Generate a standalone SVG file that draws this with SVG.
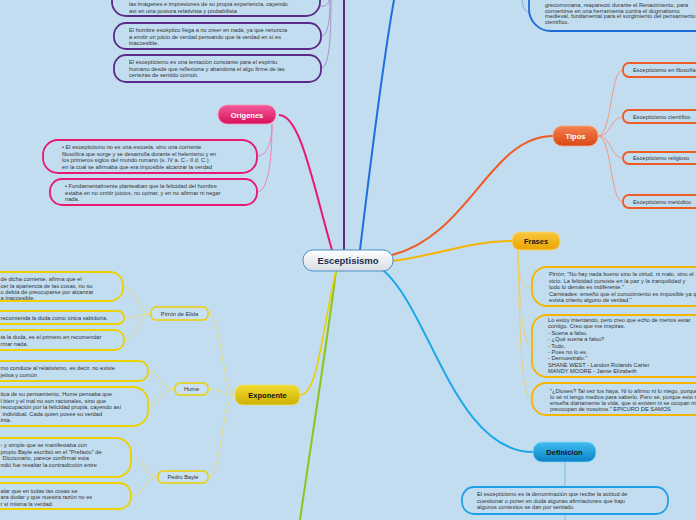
<svg xmlns="http://www.w3.org/2000/svg" width="696" height="520" viewBox="0 0 696 520">
<defs>
<linearGradient id="gC" x1="0" y1="0" x2="0" y2="1"><stop offset="0" stop-color="#ffffff"/><stop offset="1" stop-color="#d7dde3"/></linearGradient>
<linearGradient id="gPink" x1="0" y1="0" x2="0" y2="1"><stop offset="0" stop-color="#f25a98"/><stop offset="1" stop-color="#d9105e"/></linearGradient>
<linearGradient id="gYel" x1="0" y1="0" x2="0" y2="1"><stop offset="0" stop-color="#f2dc30"/><stop offset="1" stop-color="#cfb000"/></linearGradient>
<linearGradient id="gOr" x1="0" y1="0" x2="0" y2="1"><stop offset="0" stop-color="#f58050"/><stop offset="1" stop-color="#d84812"/></linearGradient>
<linearGradient id="gFr" x1="0" y1="0" x2="0" y2="1"><stop offset="0" stop-color="#fac840"/><stop offset="1" stop-color="#e8a400"/></linearGradient>
<linearGradient id="gBl" x1="0" y1="0" x2="0" y2="1"><stop offset="0" stop-color="#40bdf0"/><stop offset="1" stop-color="#0a82c8"/></linearGradient>
</defs>
<style>
text{font-family:"Liberation Sans",Arial,sans-serif;}
.t{font-size:5.7px;fill:#333333;}
.main{font-size:7.5px;font-weight:bold;text-anchor:middle;}
.sub{font-size:5.7px;fill:#333333;text-anchor:middle;}
.box{fill:none;stroke-width:1.8;}
.pu{stroke:#5b2a88;}
.pk{stroke:#e8196f;}
.yl{stroke:#ecd000;}
.or{stroke:#f05a24;}
.fr{stroke:#f5b400;}
.bl{stroke:#1e9ee6;}
.bd{stroke:#1a6ad8;}
.c{fill:none;}
</style>
<rect x="0" y="0" width="696" height="520" fill="#c2ddf0"/>

<g id="connectors">
<path class="c" d="M344,250 L344,0" stroke="#5b2a88" stroke-width="2"/>
<path class="c" d="M330,0 C330,20 328,36 321,36" stroke="#a48cc4" stroke-width="0.9"/>
<path class="c" d="M331,0 C331,40 329,68 321,68" stroke="#a48cc4" stroke-width="0.9"/>
<path class="c" d="M329,0 C329,4 325,7 320,6" stroke="#a48cc4" stroke-width="0.9"/>
<path class="c" d="M360,250 C372,150 385,50 394,0" stroke="#1e6fdc" stroke-width="2"/>
<path class="c" d="M522,0 C523,8 525,12 529,12" stroke="#6ea2e8" stroke-width="0.9"/>
<path class="c" d="M332,250 C312,180 300,115 279,115" stroke="#e8196f" stroke-width="2"/>
<path class="c" d="M272,124 C272,140 268,156 257,156" stroke="#f07aa8" stroke-width="0.9"/>
<path class="c" d="M272,124 C272,160 268,192 257,192" stroke="#f07aa8" stroke-width="0.9"/>
<path class="c" d="M392,255 C470,235 490,136 553,136" stroke="#f05a24" stroke-width="2"/>
<path class="c" d="M598,136 C612,136 610,70 623,70" stroke="#f4927a" stroke-width="0.9"/>
<path class="c" d="M598,136 C612,136 610,117 623,117" stroke="#f4927a" stroke-width="0.9"/>
<path class="c" d="M598,136 C612,136 610,158 623,158" stroke="#f4927a" stroke-width="0.9"/>
<path class="c" d="M598,136 C612,136 610,202 623,202" stroke="#f4927a" stroke-width="0.9"/>
<path class="c" d="M392,261 C440,255 470,241 512,241" stroke="#f5b400" stroke-width="2"/>
<path class="c" d="M518,250 C518,280 522,287 532,287" stroke="#f2cc60" stroke-width="0.9"/>
<path class="c" d="M518,250 C520,320 524,346 532,346" stroke="#f2cc60" stroke-width="0.9"/>
<path class="c" d="M518,250 C520,370 524,399 532,399" stroke="#f2cc60" stroke-width="0.9"/>
<path class="c" d="M336,271 C326,350 310,450 300,520" stroke="#8cc41e" stroke-width="2"/>
<path class="c" d="M300,395 C318,395 322,330 336,271" stroke="#ecd000" stroke-width="1.6"/>
<path class="c" d="M235,395 C222,395 222,314 208,314" stroke="#eadc78" stroke-width="0.9"/>
<path class="c" d="M235,395 C222,395 222,389 208,389" stroke="#eadc78" stroke-width="0.9"/>
<path class="c" d="M235,395 C222,395 222,477 208,477" stroke="#eadc78" stroke-width="0.9"/>
<path class="c" d="M151,314 C138,314 137,287 123,287" stroke="#eadc78" stroke-width="0.9"/>
<path class="c" d="M151,314 C138,314 137,318 124,318" stroke="#eadc78" stroke-width="0.9"/>
<path class="c" d="M151,314 C138,314 137,340 124,340" stroke="#eadc78" stroke-width="0.9"/>
<path class="c" d="M175,389 C160,389 160,371 148,371" stroke="#eadc78" stroke-width="0.9"/>
<path class="c" d="M175,389 C160,389 160,406 148,406" stroke="#eadc78" stroke-width="0.9"/>
<path class="c" d="M158,477 C145,477 144,457 131,457" stroke="#eadc78" stroke-width="0.9"/>
<path class="c" d="M158,477 C145,477 144,496 131,496" stroke="#eadc78" stroke-width="0.9"/>
<path class="c" d="M383,270 C430,310 455,452 533,452" stroke="#1ea8ea" stroke-width="2"/>
<path class="c" d="M565,462 L565,487 M565,514 L565,520" stroke="#70c4ee" stroke-width="1"/>
</g>

<g id="purple-a"><rect class="box pu" x="112" y="-20" width="208" height="36" rx="14"/>
<text class="t" x="129"><tspan x="129" y="6">las imágenes e impresiones de su propia experiencia, cayendo</tspan><tspan x="129" y="12.5">así en una postura relativista y probabilista</tspan></text></g>
<g id="purple-b"><rect class="box pu" x="114" y="23" width="207" height="26" rx="12"/>
<text class="t"><tspan x="129" y="32">El hombre escéptico llega a no creer en nada, ya que renuncia</tspan><tspan x="129" y="38.5">a emitir un juicio de verdad pensando que la verdad en sí es</tspan><tspan x="129" y="45">inaccesible.</tspan></text></g>
<g id="purple-c"><rect class="box pu" x="114" y="55" width="207" height="27" rx="12"/>
<text class="t"><tspan x="129" y="64">El escepticismo es una tentación constante para el espíritu</tspan><tspan x="129" y="70.5">humano desde que reflexiona y abandona el algo firme de las</tspan><tspan x="129" y="77">certezas de sentido común.</tspan></text></g>

<g id="blue-top"><rect class="box bd" x="529" y="-30" width="200" height="61" rx="22"/>
<text class="t"><tspan x="545" y="7">grecorromana,  reapareció durante el Renacimiento, para</tspan><tspan x="545" y="12.5">convertirse en una herramienta contra el dogmatismo</tspan><tspan x="545" y="18">medieval, fundamental para el surgimiento del pensamiento</tspan><tspan x="545" y="23.5">científico.</tspan></text></g>

<g id="center"><rect x="303" y="250" width="90" height="21" rx="10" fill="url(#gC)" stroke="#4a90c8" stroke-width="1"/>
<text x="348" y="264" style="font-size:9.5px;font-weight:bold;text-anchor:middle;fill:#1f2d4d">Esceptisismo</text></g>

<g id="origenes"><rect x="218" y="105" width="58" height="19" rx="9" fill="url(#gPink)" stroke="#f5a0c0" stroke-width="0.8"/>
<text class="main" x="247" y="117.5" fill="#ffffff">Orígenes</text></g>
<g id="pink-1"><rect class="box pk" x="43" y="140" width="214" height="33" rx="15"/>
<text class="t"><tspan x="62" y="149">• El escepticismo no es una escuela, sino una corriente</tspan><tspan x="62" y="155.5">filosófica que surge y se desarrolla durante el helenismo y en</tspan><tspan x="62" y="162">los primeros siglos del mundo romano (s. IV a. C.- II d. C.),</tspan><tspan x="62" y="168.5">en la cual se afirmaba que era imposible alcanzar la verdad</tspan></text></g>
<g id="pink-2"><rect class="box pk" x="50" y="179" width="207" height="26" rx="12"/>
<text class="t"><tspan x="65" y="188">• Fundamentalmente planteaban que la felicidad del hombre</tspan><tspan x="65" y="194.5">estaba en no omitir juicios, no opinar, y en no afirmar ni negar</tspan><tspan x="65" y="201">nada.</tspan></text></g>

<g id="exponente"><rect x="235" y="385" width="65" height="20" rx="8" fill="url(#gYel)" stroke="#f0e070" stroke-width="0.8"/>
<text class="main" x="267.5" y="398" fill="#111111">Exponente</text></g>
<g id="pirron"><rect class="yl" x="151" y="307" width="57" height="13" rx="5" fill="#c8e0f0" stroke-width="1.5"/><text class="sub" x="179.5" y="315.8">Pirrón de Elida</text></g>
<g id="hume"><rect class="yl" x="175" y="383" width="33" height="12" rx="5" fill="#c8e0f0" stroke-width="1.5"/><text class="sub" x="191.5" y="391.3">Hume</text></g>
<g id="bayle"><rect class="yl" x="158" y="471" width="50" height="12" rx="5" fill="#c8e0f0" stroke-width="1.5"/><text class="sub" x="183" y="479.3">Pedro Bayle</text></g>

<g id="pirron-1"><rect class="box yl" x="-20" y="272" width="143" height="29" rx="13"/>
<text class="t"><tspan x="0.5" y="281">de dicha corriente, afirma que el</tspan><tspan x="0.5" y="287.5">cer la apariencia de las cosas, no su</tspan><tspan x="0.5" y="294">o debía de preocuparse por alcanzar</tspan><tspan x="0.5" y="300">a inaccesible.</tspan></text></g>
<g id="pirron-2"><rect class="box yl" x="-20" y="311" width="144" height="13" rx="6"/>
<text class="t" x="0.5" y="319.8">recomienda la duda como única sabiduría.</text></g>
<g id="pirron-3"><rect class="box yl" x="-20" y="330" width="144" height="20" rx="9"/>
<text class="t"><tspan x="0.5" y="339">ta la duda, es el primero en recomendar</tspan><tspan x="0.5" y="346">rmar nada.</tspan></text></g>
<g id="hume-1"><rect class="box yl" x="-20" y="361" width="168" height="20" rx="9"/>
<text class="t"><tspan x="0.5" y="370">mo conduce al relativismo, es decir, no existe</tspan><tspan x="0.5" y="377">jetiva y común</tspan></text></g>
<g id="hume-2"><rect class="box yl" x="-20" y="387" width="168" height="39" rx="15"/>
<text class="t"><tspan x="0.5" y="396">tica de su pensamiento, Hume pensaba que</tspan><tspan x="0.5" y="402.5">l bien y el mal no son racionales, sino que</tspan><tspan x="0.5" y="409">reocupación por la felicidad propia, cayendo así</tspan><tspan x="2.5" y="415.5">individual. Cada quien posee su verdad</tspan><tspan x="0.5" y="422">inta.</tspan></text></g>
<g id="bayle-1"><rect class="box yl" x="-20" y="438" width="151" height="39" rx="15"/>
<text class="t"><tspan x="0.5" y="447">- y simple que se manifestaba con</tspan><tspan x="0.5" y="453.5">propio Bayle escribió en el "Prefacio" de</tspan><tspan x="2.5" y="460">Diccionario, parece confirmar esta</tspan><tspan x="0.5" y="466.5">ndió fue resaltar la contradicción entre</tspan></text></g>
<g id="bayle-2"><rect class="box yl" x="-20" y="483" width="151" height="26" rx="12"/>
<text class="t"><tspan x="0.5" y="492.5">alar que en todas las cosas se</tspan><tspan x="0.5" y="499">ara dudar y que nuestra razón no es</tspan><tspan x="0.5" y="505.5">r sí misma la verdad.</tspan></text></g>

<g id="tipos"><rect x="553" y="126" width="45" height="20" rx="9" fill="url(#gOr)" stroke="#f8a888" stroke-width="0.8"/>
<text class="main" x="575.5" y="139" fill="#ffffff">Tipos</text></g>
<g id="tipo-1"><rect class="box or" x="623" y="63" width="90" height="14" rx="6"/><text class="t" x="633" y="72">Escepticismo en filosofía</text></g>
<g id="tipo-2"><rect class="box or" x="623" y="110" width="90" height="13" rx="6"/><text class="t" x="633" y="118.8">Escepticismo científico</text></g>
<g id="tipo-3"><rect class="box or" x="623" y="152" width="90" height="12" rx="6"/><text class="t" x="633" y="160.3">Escepticismo religioso</text></g>
<g id="tipo-4"><rect class="box or" x="623" y="195" width="90" height="13" rx="6"/><text class="t" x="633" y="203.8">Escepticismo metódico</text></g>

<g id="frases"><rect x="512" y="232" width="48" height="18" rx="8" fill="url(#gFr)" stroke="#fcd870" stroke-width="0.8"/>
<text class="main" x="536" y="244" fill="#1a1a1a">Frases</text></g>
<g id="frase-1"><rect class="box fr" x="532" y="267" width="180" height="39" rx="15"/>
<text class="t"><tspan x="549" y="276">Pirrón: "No hay nada bueno sino la virtud, ni malo, sino el</tspan><tspan x="549" y="282.5">vicio. La felicidad consiste en la paz y la tranquilidad y</tspan><tspan x="549" y="289">todo lo demás es indiferente."</tspan><tspan x="549" y="295.5">Carnéades: enseñó que el conocimiento es imposible ya que no</tspan><tspan x="549" y="302">exista criterio alguno de verdad."</tspan></text></g>
<g id="frase-2"><rect class="box fr" x="532" y="315" width="180" height="62" rx="15"/>
<text class="t"><tspan x="548" y="322">Lo estoy intentando, pero creo que echo de menos estar</tspan><tspan x="548" y="328.4">contigo. Creo que me inspiras.</tspan><tspan x="548" y="334.8">- Suena a falso.</tspan><tspan x="548" y="341.2">- ¿Qué suena a falso?</tspan><tspan x="548" y="347.6">- Todo.</tspan><tspan x="548" y="354">- Pues no lo es.</tspan><tspan x="548" y="360.4">- Demuestralo."</tspan><tspan x="548" y="366.8">SHANE WEST - Landon Rolands Carter</tspan><tspan x="548" y="373.2">MANDY MOORE - Jamie Elizabeth</tspan></text></g>
<g id="frase-3"><rect class="box fr" x="532" y="383" width="180" height="32" rx="14"/>
<text class="t"><tspan x="550" y="393">"¿Dioses? Tal vez los haya. Ni lo afirmo ni lo niego, porque no</tspan><tspan x="550" y="399">lo sé ni tengo medios para saberlo. Pero sé, porque esto me lo</tspan><tspan x="550" y="405">enseña diariamente la vida, que si existen ni se ocupan ni se</tspan><tspan x="550" y="411">preocupan de nosotros." EPICURO DE SAMOS</tspan></text></g>

<g id="definicion"><rect x="533" y="442" width="63" height="20" rx="9" fill="url(#gBl)" stroke="#8ad4f6" stroke-width="0.8"/>
<text class="main" x="564.5" y="455" fill="#111111">Definicion</text></g>
<g id="definicion-1"><rect class="box bl" x="462" y="487" width="206" height="27" rx="12"/>
<text class="t"><tspan x="477" y="496">El escepticismo es la denominación que recibe la actitud de</tspan><tspan x="477" y="502.5">cuestionar o poner en duda algunas afirmaciones que bajo</tspan><tspan x="477" y="509">algunos contextos se dan por sentado.</tspan></text></g>
</svg>
